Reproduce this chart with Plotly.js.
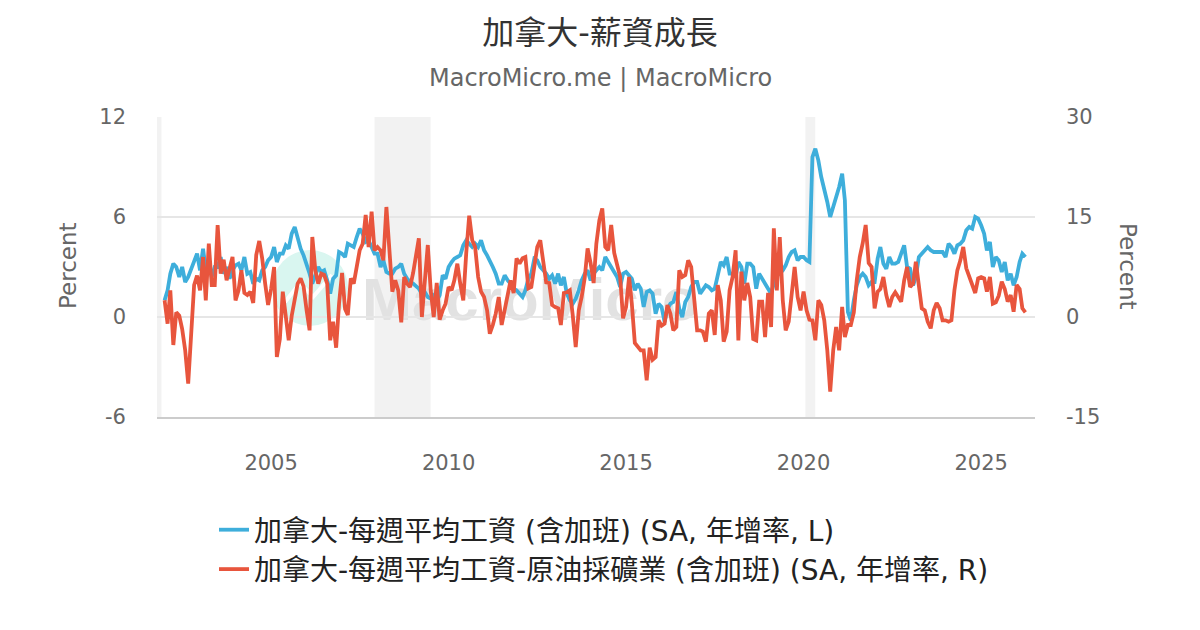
<!DOCTYPE html>
<html>
<head>
<meta charset="utf-8">
<script src="https://cdn.plot.ly/plotly-3.0.1.min.js"></script>
<style>html,body{margin:0;padding:0;background:#fff;}#chart{width:1200px;height:630px;}</style>
</head>
<body>
<div id="chart"></div>
<script>
// ---- data (monthly, starting Jan 2002) ----
const startYear = 2002;
const seriesNames = [
  '加拿大-每週平均工資 (含加班) (SA, 年增率, L)',
  '加拿大-每週平均工資-原油採礦業 (含加班) (SA, 年增率, R)'
];
// weekly earnings YoY %, left axis
const weeklyEarnings = [
  1.0, 1.6, 2.6, 3.2, 3.0, 2.4, 3.0, 2.1, 2.4, 2.9, 3.3, 3.8,   // 2002
  2.8, 4.1, 2.8, 3.3, 2.4, 3.0, 3.0, 3.6, 2.6, 3.0, 2.3, 2.8,   // 2003
  3.1, 3.2, 2.8, 3.6, 2.6, 2.7, 2.0, 2.3, 2.2, 2.8, 3.0, 3.4,   // 2004
  3.6, 4.2, 3.3, 3.8, 3.8, 4.3, 4.1, 5.0, 5.4, 4.7, 4.1, 3.7,   // 2005
  3.2, 2.6, 2.0, 2.6, 3.0, 2.7, 2.8, 2.2, 1.4, 2.3, 2.5, 3.9,   // 2006
  3.8, 3.6, 4.4, 4.3, 4.2, 4.8, 5.3, 5.0, 4.5, 4.6, 4.2, 3.8,   // 2007
  3.8, 3.0, 3.4, 2.7, 2.6, 2.6, 2.9, 3.0, 3.2, 2.6, 2.3, 2.1,   // 2008
  2.0, 1.8, 1.7, 1.4, 1.5, 1.2, 1.1, 1.3, 1.0, 1.3, 2.5, 2.3,   // 2009
  3.0, 3.3, 3.5, 3.6, 3.7, 4.3, 4.6, 4.4, 4.2, 4.4, 4.2, 4.6,   // 2010
  4.0, 3.7, 3.3, 3.0, 2.6, 2.0, 2.0, 2.5, 2.2, 2.0, 1.7, 1.6,   // 2011
  1.4, 1.2, 1.6, 2.3, 2.6, 3.5, 3.4, 3.0, 2.8, 2.6, 2.3, 2.5,   // 2012
  2.0, 2.6, 1.9, 2.4, 1.4, 1.0, 0.8, 1.1, 1.6, 2.2, 2.6, 2.8,   // 2013
  2.2, 2.6, 2.8, 3.0, 2.8, 3.6, 3.3, 3.0, 2.8, 2.4, 1.8, 2.6,   // 2014
  2.7, 2.5, 2.3, 1.6, 2.0, 1.7, 0.6, 1.5, 1.6, 1.4, 0.2, 0.8,   // 2015
  0.6, -0.3, 0.5, 0.8, 0.9, 1.5, 0.5, 0.0, 0.9, 1.2, 1.8, 2.1,  // 2016
  2.1, 1.4, 1.6, 1.9, 1.8, 1.6, 1.7, 2.6, 3.3, 3.1, 3.6, 2.6,   // 2017
  2.6, 2.4, 3.3, 3.0, 2.0, 3.2, 3.2, 3.0, 1.7, 2.6, 2.3, 2.1,   // 2018
  1.8, 1.4, 2.0, 2.5, 2.6, 2.8, 3.1, 3.6, 3.9, 4.0, 3.4, 3.6,   // 2019
  3.6, 3.4, 3.3, 9.6, 10.1, 9.4, 8.4, 7.7, 6.9, 6.0, 6.6, 7.2,  // 2020
  7.8, 8.6, 7.0, 0.3, -0.2, 1.0, 1.9, 2.4, 2.6, 2.4, 1.9, 2.1,  // 2021
  2.1, 3.5, 4.2, 3.2, 2.9, 3.6, 3.2, 3.2, 3.3, 3.8, 4.3, 3.0,   // 2022
  2.9, 1.9, 2.4, 3.6, 3.8, 4.0, 4.2, 4.0, 3.9, 3.9, 3.9, 3.9,   // 2023
  3.6, 4.4, 4.2, 3.8, 4.3, 4.4, 4.6, 5.2, 5.4, 5.3, 6.0, 5.9,   // 2024
  5.5, 5.0, 4.0, 4.5, 3.0, 3.6, 3.4, 2.7, 3.3, 2.2, 2.6, 1.9,   // 2025
  2.4, 3.3, 3.8, 3.6                                            // 2026
];
// oil extraction weekly earnings YoY %, right axis
const oilEarnings = [
  2.5, -1.0, 4.0, -4.2, 0.7, 0.2, -1.8, -5.0, -10.0, -2.5, 4.8, 6.2,   // 2002
  4.0, 9.0, 2.5, 11.0, 4.8, 4.8, 13.8, 6.5, 8.6, 5.5, 7.2, 9.0,        // 2003
  2.5, 4.0, 7.0, 3.6, 3.3, 3.8, 2.1, 9.3, 11.4, 8.8, 5.0, 1.8,         // 2004
  4.2, 7.5, -6.0, -3.3, 3.8, 0.3, -3.5, 0.2, 2.5, 5.0, 5.8, 4.6,       // 2005
  1.0, -2.0, 12.0, 7.0, 5.0, 6.5, 6.3, 5.0, -3.5, -0.7, -4.6, 2.0,     // 2006
  6.6, 1.2, 0.3, 5.8, 5.0, 7.5, 10.0, 11.0, 15.3, 10.5, 15.8, 10.0,    // 2007
  10.5, 10.0, 8.5, 16.5, 10.0, 3.8, 5.5, 4.0, -0.8, 6.0, 5.0, 4.5,     // 2008
  6.6, 9.0, 11.8, 0.0, 6.0, 10.8, 4.0, 0.0, 5.1, -0.4, 1.0, 2.0,       // 2009
  4.5, 4.0, 5.5, 8.0, 5.0, 2.5, 9.5, 15.2, 11.5, 10.5, 6.0, 3.8,       // 2010
  3.0, 1.0, -2.5, -1.2, 0.5, 3.0, -1.2, 1.0, 3.8, 5.5, 3.6, 8.8,       // 2011
  8.0, 8.8, 9.0, 4.3, 4.5, 7.5, 10.5, 11.5, 8.5, 5.2, 5.1, 1.8,        // 2012
  1.5, 1.3, -1.2, 3.6, 3.7, 4.0, 0.3, -4.5, 1.0, 3.0, 5.8, 10.3,       // 2013
  8.1, 5.1, 11.0, 14.5, 16.3, 10.5, 10.0, 13.8, 9.6, 7.5, 6.0, -0.2,   // 2014
  1.5, 6.0, 2.0, -3.9, -4.4, -5.0, -5.0, -9.5, -4.6, -6.4, -6.0, -0.5, // 2015
  -1.3, -1.0, 1.8, 0.5, -2.0, -1.5, 7.0, 6.0, 6.3, 8.5, 7.5, 2.0,      // 2016
  -2.0, -2.0, -2.2, -3.7, 0.5, 1.0, -2.7, 4.8, 2.5, -3.7, -2.2, 4.0,   // 2017
  6.0, 10.0, -3.5, 6.8, 2.5, 5.1, 3.0, -3.3, -3.5, 2.3, 2.3, -3.0,     // 2018
  3.6, -1.5, 13.3, 4.0, 12.0, 2.5, -2.0, -0.7, 3.6, 7.5, 3.0, 1.0,     // 2019
  3.8, 1.0, -0.4, -0.5, -3.5, 2.5, 1.8, -0.5, -5.0, -11.2, -5.0, -1.5, // 2020
  -5.0, 1.5, -3.0, -1.2, -1.2, 0.7, 5.5, 9.0, 11.1, 13.8, 8.1, 7.5,    // 2021
  1.3, 3.8, 4.2, 6.0, 3.3, 1.5, 3.0, 3.7, 3.0, 2.3, 5.5, 7.5,          // 2022
  4.5, 5.0, 8.3, 5.0, 1.3, 1.0, -0.7, -1.7, 1.0, 2.1, 1.3, -0.5,       // 2023
  -0.5, -0.7, -0.5, 4.0, 7.0, 8.5, 10.5, 7.3, 6.0, 4.5, 3.6, 5.8,      // 2024
  6.0, 5.8, 3.8, 6.0, 2.0, 2.2, 3.2, 5.3, 4.2, 2.3, 3.3, 0.8,          // 2025
  4.8, 4.2, 1.3, 0.7                                                   // 2026
];
const recessionStarts = ['2001-03-01', '2007-12-01', '2020-01-20'];
const recessionEnds   = ['2001-11-30', '2009-06-30', '2020-04-30'];
const leftTickVals  = [-6, 0, 6, 12];
const leftTickText  = ['-6', '0', '6', '12'];
const rightTickVals = [-15, 0, 15, 30];
const rightTickText = ['-15', '0', '15', '30'];
const xTickVals = ['2005-01-01', '2010-01-01', '2015-01-01', '2020-01-01', '2025-01-01'];
const xTickText = ['2005', '2010', '2015', '2020', '2025'];

// ---- build ----
const dates = weeklyEarnings.map((_, i) => {
  const y = startYear + Math.floor(i / 12);
  const m = (i % 12) + 1;
  return y + '-' + String(m).padStart(2, '0') + '-01';
});

const FONT = 'DejaVu Sans, "Noto Sans CJK TC", sans-serif';
const BLUE = '#3eaedb';
const RED = '#e8553d';

const traces = [
  {x: dates, y: weeklyEarnings, name: seriesNames[0], type: 'scatter', mode: 'lines',
   line: {color: BLUE, width: 3.8}, yaxis: 'y', legendgroup: 'a'},
  {x: dates, y: oilEarnings, name: seriesNames[1], type: 'scatter', mode: 'lines',
   line: {color: RED, width: 3.8}, yaxis: 'y2', legendgroup: 'b'}
];

const px = x => (x - 157) / 878;
const py = y => (417 - y) / 300;

const shapes = recessionStarts.map((s, i) => ({
  type: 'rect', xref: 'x', yref: 'paper', x0: s < '2001-10-15' ? '2001-10-15' : s, x1: recessionEnds[i],
  y0: 0, y1: 1, fillcolor: '#f2f2f2', line: {width: 0}, layer: 'below'
}));
// watermark logo
shapes.push({type: 'circle', xref: 'paper', yref: 'paper',
  x0: px(272), x1: px(348), y0: py(326), y1: py(250),
  fillcolor: '#d9f6f0', line: {width: 0}, layer: 'below'});
shapes.push({type: 'path', xref: 'paper', yref: 'paper', layer: 'below',
  path: 'M ' + px(285) + ',' + py(302) + ' L ' + px(300) + ',' + py(283) + ' L ' + px(313) + ',' + py(297) + ' L ' + px(332) + ',' + py(275),
  line: {color: '#ffffff', width: 4}});
shapes.push({type: 'rect', xref: 'paper', yref: 'paper', layer: 'below',
  x0: px(356), x1: px(700), y0: py(318), y1: py(268),
  fillcolor: 'rgba(0,0,0,0)', line: {width: 0},
  label: {text: '<b>MacroMicro</b>', textposition: 'middle left',
          font: {family: 'Liberation Sans, Arial, sans-serif', size: 60, color: '#e2e2e2'}}});

const layout = {
  width: 1200, height: 630,
  paper_bgcolor: '#ffffff', plot_bgcolor: '#ffffff',
  margin: {l: 157, r: 165, t: 117, b: 213},
  font: {family: FONT, color: '#666666'},
  title: {text: '加拿大-薪資成長', x: 0.5, xref: 'container', xanchor: 'center',
          y: 1 - 33 / 630, yref: 'container', yanchor: 'middle',
          font: {family: FONT, size: 32, color: '#333333'}},
  showlegend: true,
  legend: {x: px(214), xanchor: 'left', y: py(505), yanchor: 'top',
           orientation: 'v', traceorder: 'grouped', tracegroupgap: 0,
           font: {family: FONT, size: 28, color: '#222222'}, bgcolor: 'rgba(0,0,0,0)'},
  xaxis: {type: 'date', range: ['2001-10-15', '2026-07-09'],
          tickvals: xTickVals, ticktext: xTickText, showgrid: false, zeroline: false,
          showline: true, linecolor: '#cccccc', linewidth: 1.5, ticks: '',
          ticklabelstandoff: 26,
          tickfont: {family: FONT, size: 21, color: '#666666'}},
  yaxis: {range: [-6, 12], tickvals: leftTickVals, ticktext: leftTickText,
          showgrid: true, gridcolor: '#e6e6e6', gridwidth: 2, zeroline: false,
          showline: false, ticks: '', ticklabelstandoff: 30,
          tickfont: {family: FONT, size: 21, color: '#666666'}},
  yaxis2: {range: [-15, 30], tickvals: rightTickVals, ticktext: rightTickText,
           overlaying: 'y', side: 'right', showgrid: false, zeroline: false,
           showline: false, ticks: '', ticklabelstandoff: 30,
           tickfont: {family: FONT, size: 21, color: '#666666'}},
  shapes: shapes,
  annotations: [
    {text: 'MacroMicro.me | MacroMicro', xref: 'paper', yref: 'paper',
     x: px(600), y: py(78), xanchor: 'center', yanchor: 'middle', showarrow: false,
     font: {family: FONT, size: 24, color: '#666666'}},
    {text: 'Percent', xref: 'paper', yref: 'paper', x: px(68), y: py(266),
     xanchor: 'center', yanchor: 'middle', textangle: -90, showarrow: false,
     font: {family: FONT, size: 23, color: '#666666'}},
    {text: 'Percent', xref: 'paper', yref: 'paper', x: px(1128), y: py(266),
     xanchor: 'center', yanchor: 'middle', textangle: 90, showarrow: false,
     font: {family: FONT, size: 23, color: '#666666'}}
  ]
};

Plotly.newPlot('chart', traces, layout, {displayModeBar: false, staticPlot: true});
</script>
</body>
</html>
